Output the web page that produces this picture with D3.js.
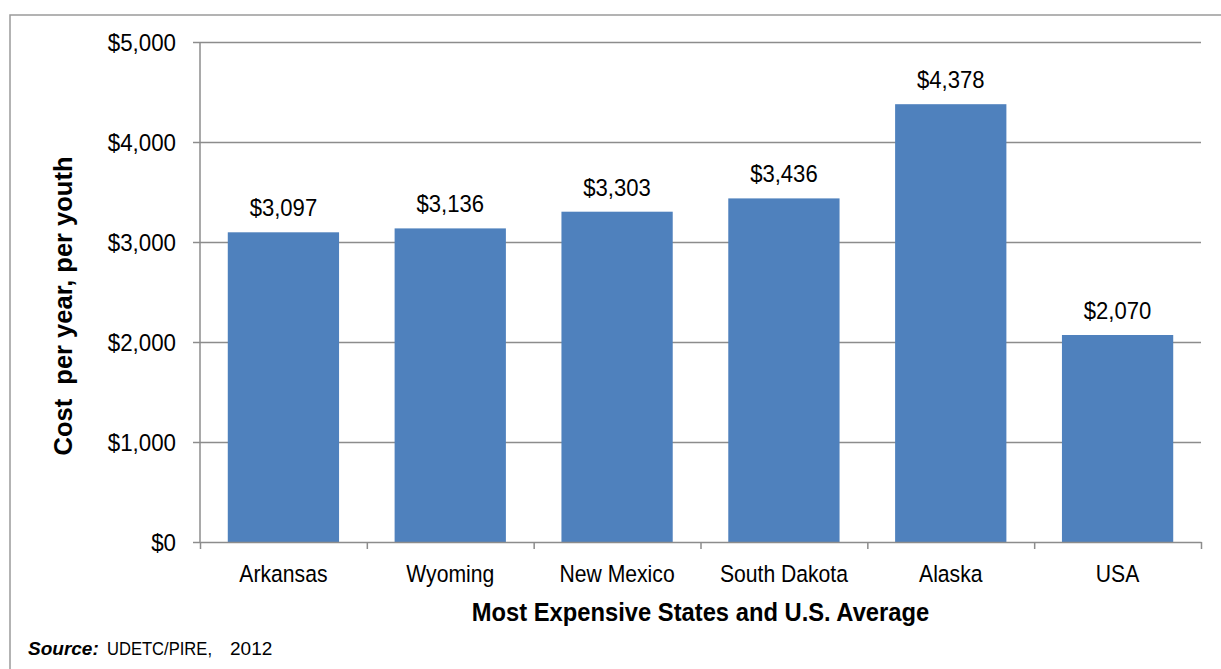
<!DOCTYPE html>
<html>
<head>
<meta charset="utf-8">
<script src="https://cdn.jsdelivr.net/npm/d3@7"></script>
<style>
  html, body { margin: 0; padding: 0; background: #fff; }
  svg { display: block; font-family: "Liberation Sans", Arial, sans-serif; }
  /* the reference text is slightly condensed */
  .narrow { transform-box: fill-box; transform-origin: center; }
  .narrow-end { transform-box: fill-box; transform-origin: right center; }
</style>
</head>
<body>
<svg id="chart" width="1221" height="669"></svg>
<script>
// values
const categories = ["Arkansas", "Wyoming", "New Mexico", "South Dakota", "Alaska", "USA"];
const costs = [3097, 3136, 3303, 3436, 4378, 2070];
const yTicks = [0, 1000, 2000, 3000, 4000, 5000];

const svg = d3.select("#chart");
const margin = { top: 42, right: 20, bottom: 127, left: 200 };
const width = 1201 - margin.left;
const height = 542 - margin.top;
const gray = "#8c8c8c";
const money = d3.format("$,");

// outer chart frame (only top and left edges are inside the picture)
svg.append("rect")
  .attr("x", 10).attr("y", 15)
  .attr("width", 1240).attr("height", 700)
  .attr("fill", "none")
  .attr("stroke", "#9a9a9a")
  .attr("stroke-width", 1.5);

const g = svg.append("g")
  .attr("transform", `translate(${margin.left},${margin.top})`);

const x = d3.scaleBand()
  .domain(categories)
  .range([0, width])
  .paddingInner(0.333)
  .paddingOuter(0.1665);

const y = d3.scaleLinear()
  .domain([0, 5000])
  .range([height, 0]);

// gridlines
g.append("g")
  .call(d3.axisLeft(y).tickValues(yTicks.slice(1)).tickSize(-width).tickFormat(""))
  .call(s => s.select(".domain").remove())
  .call(s => s.selectAll("line").attr("stroke", gray).attr("stroke-width", 1.5));

// bars
g.selectAll("rect.bar")
  .data(costs)
  .enter()
  .append("rect")
  .attr("class", "bar")
  .attr("x", (d, i) => x(categories[i]))
  .attr("y", d => y(d))
  .attr("width", x.bandwidth())
  .attr("height", d => height - y(d))
  .attr("fill", "#4f81bd");

// value labels
g.selectAll("text.val")
  .data(costs)
  .enter()
  .append("text")
  .attr("class", "val narrow")
  .attr("x", (d, i) => x(categories[i]) + x.bandwidth() / 2)
  .attr("y", d => y(d) - 16)
  .attr("text-anchor", "middle")
  .style("font-size", "23px")
  .style("transform", "scaleX(0.96)")
  .style("fill", "#000")
  .text(d => money(d));

// y axis
g.append("g")
  .call(d3.axisLeft(y).tickValues(yTicks).tickSize(7).tickPadding(17).tickFormat(money))
  .call(s => s.select(".domain").attr("stroke", gray).attr("stroke-width", 1.5).attr("d", `M0,${height}V0`))
  .call(s => s.selectAll("line").attr("stroke", gray).attr("stroke-width", 1.5))
  .call(s => s.selectAll("text")
    .attr("class", "narrow-end")
    .attr("dy", "0.36em")
    .style("font-size", "23.5px")
    .style("transform", "scaleX(0.95)")
    .style("fill", "#000")
    .attr("font-family", null));

// x axis: boundary ticks
const xb = d3.scaleLinear().domain([0, categories.length]).range([0, width]);
g.append("g")
  .attr("transform", `translate(0,${height})`)
  .call(d3.axisBottom(xb).tickValues(d3.range(categories.length + 1)).tickSize(7).tickSizeOuter(0).tickFormat(""))
  .call(s => s.select(".domain").attr("stroke", gray).attr("stroke-width", 1.5))
  .call(s => s.selectAll("line").attr("stroke", gray).attr("stroke-width", 1.5));

// x axis: category labels
g.append("g")
  .attr("transform", `translate(0,${height})`)
  .call(d3.axisBottom(x).tickSize(0).tickPadding(23))
  .call(s => s.select(".domain").remove())
  .call(s => s.selectAll("text")
    .attr("class", "narrow")
    .style("font-size", "23.5px")
    .style("transform", "scaleX(0.9)")
    .style("fill", "#000")
    .attr("font-family", null));

// axis titles
svg.append("text")
  .attr("class", "narrow")
  .attr("x", margin.left + width / 2)
  .attr("y", 621)
  .attr("text-anchor", "middle")
  .style("font-size", "25px")
  .style("font-weight", "bold")
  .style("transform", "scaleX(0.95)")
  .text("Most Expensive States and U.S. Average");

svg.append("text")
  .attr("transform", "translate(72,306) rotate(-90)")
  .attr("text-anchor", "middle")
  .style("font-size", "25.5px")
  .style("font-weight", "bold")
  .style("white-space", "pre")
  .text("Cost  per year, per youth");

// source note
const src = svg.append("text")
  .attr("x", 28)
  .attr("y", 655)
  .style("font-size", "19px")
  .style("white-space", "pre");
src.append("tspan").style("font-weight", "bold").style("font-style", "italic").text("Source:");
src.append("tspan").attr("x", 107).attr("textLength", 105).attr("lengthAdjust", "spacingAndGlyphs").text("UDETC/PIRE,");
src.append("tspan").attr("x", 230).text("2012");
</script>
</body>
</html>
